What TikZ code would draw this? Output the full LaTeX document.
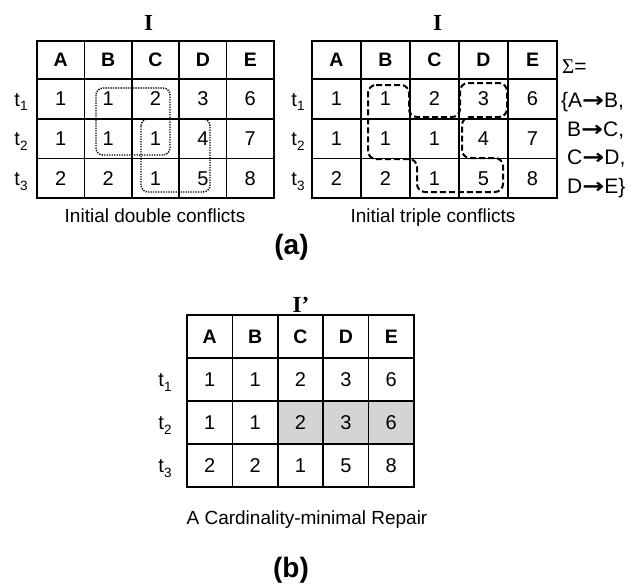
\documentclass[tikz,border=0pt]{standalone}
\usepackage{fontspec}
\setmainfont{Liberation Sans}
\newfontfamily\titlefont{Liberation Serif}
\newfontfamily\arrowfont{DejaVu Sans}

% subscript for the tuple labels t1, t2, t3
\newcommand\tsub[1]{\raisebox{-0.45ex}{\fontsize{13.5}{13.5}\selectfont #1}}
% arrow of a functional dependency
\newcommand\fdarrow{\scalebox{1.25}[1]{\arrowfont\bfseries →}}

\tikzset{
  cell/.style={font=\fontsize{20}{24}\selectfont, inner sep=0pt},
  head/.style={font=\fontsize{19.5}{23}\selectfont\bfseries, inner sep=0pt},
  tlab/.style={font=\fontsize{20}{24}\selectfont, inner sep=0pt, anchor=base},
  title/.style={font=\titlefont\fontsize{23}{26}\selectfont\bfseries, inner sep=0pt, anchor=base},
  caption/.style={font=\fontsize{19}{23}\selectfont, inner sep=0pt, anchor=base},
  panel/.style={font=\fontsize{28}{32}\selectfont\bfseries, inner sep=0pt, anchor=base},
  fd/.style={font=\fontsize{21}{26}\selectfont, inner sep=0pt, anchor=base west},
  gridline/.style={line width=1.7pt},
  headline/.style={line width=2.1pt},
  frame/.style={line width=2.4pt},
  conflictpair/.style={line width=1.4pt, dash pattern=on 1.3pt off 1.2pt, rounded corners=7pt},
  conflicttriple/.style={line width=2pt, dash pattern=on 6pt off 3pt, rounded corners=8pt},
  repaired/.style={fill=black!17},
}

% #1 prefix, #2 left, #3 column width, #4 top, #5 header height,
% #6 row height, #7 rows of values, #8 x of the tuple labels
\newcommand\relation[8]{%
  \foreach \h [count=\c] in {A,B,C,D,E}
    \node[head] (#1h\c) at ({#2+#3*(\c-0.5)},{#4+#5/2}) {\h};
  \foreach \row [count=\r] in {#7} {
    \node[tlab] (#1t\r) at (#8,{#4+#5+#6*(\r-0.5)+7.2}) {t\tsub{\r}};
    \foreach \v [count=\c] in \row
      \node[cell] (#1c\r\c) at ({#2+#3*(\c-0.5)},{#4+#5+#6*(\r-0.5)}) {\v};
  }
  \foreach \k in {1,...,4}
    \draw[gridline] ({#2+#3*\k},#4) -- ({#2+#3*\k},{#4+#5+3*#6});
  \foreach \k in {1,2}
    \draw[gridline] (#2,{#4+#5+#6*\k}) -- ({#2+5*#3},{#4+#5+#6*\k});
  \draw[headline] (#2,{#4+#5}) -- ({#2+5*#3},{#4+#5});
  \draw[frame] (#2,#4) rectangle ({#2+5*#3},{#4+#5+3*#6});
}

\begin{document}
\begin{tikzpicture}[x=1pt,y=-1pt]
\useasboundingbox (0,0) rectangle (635,584);

% ---------- (a) left: double conflicts ----------
\node[title] (titleL) at (148.5,30) {I};
\relation{L}{37}{47.4}{41}{38}{39.7}{{1,1,2,3,6},{1,1,1,4,7},{2,2,1,5,8}}{21}
\draw[conflictpair] (96,88) rectangle (170,155);
\draw[conflictpair] (141,119) rectangle (210,192);
\node[caption] (capL) at (155,222) {Initial double conflicts};

% ---------- (a) right: triple conflicts ----------
\node[title] (titleR) at (437.5,30) {I};
\relation{R}{312}{49}{41}{38}{39.7}{{1,1,2,3,6},{1,1,1,4,7},{2,2,1,5,8}}{298}
\draw[conflicttriple] (368,85) -- (409,85) -- (409,117) -- (460,117) -- (460,83)
  -- (507,83) -- (507,117) -- (462,117) -- (462,158) -- (503,158) -- (503,192)
  -- (417,192) -- (417,159) -- (368,159) -- cycle;
\node[caption] (capR) at (433,222) {Initial triple conflicts};

% functional dependencies
\node[fd] (fd0) at (562,73) {{\titlefont Σ}=};
\node[fd] (fd1) at (561,107.5) {\{A\fdarrow B,};
\node[fd] (fd2) at (567,136) {B\fdarrow C,};
\node[fd] (fd3) at (567,164.5) {C\fdarrow D,};
\node[fd] (fd4) at (567,193) {D\fdarrow E\}};

\node[panel] (panelA) at (291.5,254) {(a)};

% ---------- (b): repair ----------
\fill[repaired] ({187+45.4*2},401) rectangle (414,445);
\node[title] (titleB) at (301,312) {I’};
\relation{B}{187}{45.4}{315}{43}{43}{{1,1,2,3,6},{1,1,2,3,6},{2,2,1,5,8}}{165}
\node[caption] (capB) at (307,524) {A Cardinality-minimal Repair};

\node[panel] (panelB) at (291,577) {(b)};
\end{tikzpicture}
\end{document}
